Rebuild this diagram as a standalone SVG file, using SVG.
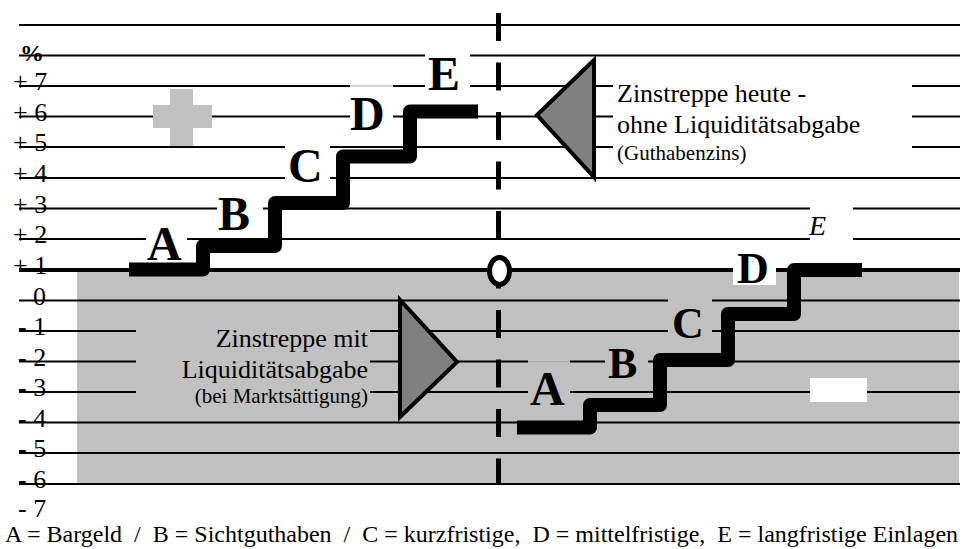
<svg xmlns="http://www.w3.org/2000/svg" width="964" height="549" viewBox="0 0 964 549">
  <style>
    .grid { stroke: #000; stroke-width: 2; fill: none; }
    .faint { stroke: #a8a8a8; stroke-width: 1; fill: none; }
    .axis { font-family: "Liberation Serif", "Times New Roman", serif; font-size: 26px; fill: #000; }
    .step { font-family: "Liberation Serif", "Times New Roman", serif; font-weight: bold; fill: #000; }
    .note { font-family: "Liberation Serif", "Times New Roman", serif; font-size: 26px; fill: #000; }
    .small { font-family: "Liberation Serif", "Times New Roman", serif; font-size: 21px; fill: #000; }
    .stair { fill: none; stroke: #000; stroke-width: 14; stroke-linejoin: round; stroke-linecap: butt; }
    .arrow { fill: #808080; stroke: #000; stroke-width: 4; stroke-linejoin: miter; }
  </style>

  <rect width="964" height="549" fill="#fff"/>

  <!-- negative-rate zone -->
  <rect id="negative-zone" x="77" y="270" width="882" height="214" fill="#c0c0c0"/>

  <!-- horizontal rate grid -->
  <g id="grid" class="grid">
    <path d="M19,25 H960"/>
    <path d="M19,55.5 H425 M470,55.5 H960"/>
    <path d="M19,86 H350 M393,86 H425 M470,86 H613 M912,86 H960"/>
    <path d="M19,116.5 H350 M393,116.5 H613 M912,116.5 H960"/>
    <path d="M19,147 H285 M330,147 H613 M912,147 H960"/>
    <path d="M19,178 H285 M330,178 H960"/>
    <path d="M19,208.5 H217 M263,208.5 H810 M853,208.5 H960"/>
    <path d="M19,239 H146 M187,239 H810 M853,239 H960"/>
    <path d="M19,270 H733 M776,270 H960" stroke-width="4"/>
    <path d="M19,300.5 H668 M712,300.5 H960"/>
    <path d="M19,331 H136 M370,331 H668 M712,331 H960"/>
    <path d="M19,361.5 H136 M370,361.5 H528 M570,361.5 H605 M648,361.5 H960"/>
    <path d="M19,392 H136 M370,392 H528 M570,392 H960"/>
    <path d="M19,422.5 H960"/>
    <path d="M19,453 H960"/>
    <path d="M19,484 H960"/>
  </g>
  <g class="faint">
    <path d="M350,86 H393"/>
    <path d="M528,361.5 H570"/>
  </g>

  <!-- axis labels -->
  <g id="axis-labels" class="axis">
    <text x="20" y="61" font-weight="bold" font-size="24">%</text>
    <text x="13" y="90">+ 7</text>
    <text x="13" y="120.5">+ 6</text>
    <text x="13" y="151">+ 5</text>
    <text x="13" y="182">+ 4</text>
    <text x="13" y="212.5">+ 3</text>
    <text x="13" y="243">+ 2</text>
    <text x="13" y="274">+ 1</text>
    <text x="33" y="305">0</text>
    <text x="18" y="335">- 1</text>
    <text x="18" y="365.5">- 2</text>
    <text x="18" y="396">- 3</text>
    <text x="18" y="426.5">- 4</text>
    <text x="18" y="457">- 5</text>
    <text x="18" y="488">- 6</text>
    <text x="18" y="517">- 7</text>
  </g>

  <!-- plus / minus signs -->
  <g id="plus-sign" fill="#c0c0c0">
    <rect x="170" y="89" width="23" height="57"/>
    <rect x="153" y="105" width="59" height="23"/>
  </g>
  <rect id="minus-sign" x="810" y="378" width="57" height="24" fill="#fff"/>

  <!-- time divider with zero point -->
  <g id="divider">
    <path d="M498.5,13 V484" stroke="#000" stroke-width="5" stroke-dasharray="28 21.5" fill="none"/>
    <ellipse cx="499.5" cy="271" rx="10" ry="13.5" fill="#fff" stroke="#000" stroke-width="5"/>
  </g>

  <!-- rate staircase today -->
  <g id="stairs-today">
    <path class="stair" d="M129,269.5 H203 V246 H275 V203 H343 V156.5 H410 V111.5 H478"/>
    <g class="step" font-size="48">
      <text x="147" y="260">A</text>
      <text x="218" y="230">B</text>
      <text x="288" y="182">C</text>
      <text x="350" y="130">D</text>
      <text x="428" y="90">E</text>
    </g>
  </g>

  <!-- rate staircase with liquidity levy -->
  <g id="stairs-levy">
    <rect x="733" y="262" width="43" height="23" fill="#fff"/>
    <path class="stair" d="M517,427.5 H590 V405 H660 V360 H728 V314 H794 V270 H862"/>
    <g class="step">
      <text x="530" y="405" font-size="48">A</text>
      <text x="608" y="378" font-size="44">B</text>
      <text x="672" y="338" font-size="44">C</text>
      <text x="737" y="283" font-size="44">D</text>
    </g>
    <text x="809" y="235" font-family="Liberation Serif, Times New Roman, serif" font-style="italic" font-size="28">E</text>
  </g>

  <!-- annotation: today -->
  <g id="note-today">
    <polygon class="arrow" points="537,115 594,60 594,177"/>
    <text class="note" x="617" y="102">Zinstreppe heute -</text>
    <text class="note" x="617" y="133">ohne Liquiditätsabgabe</text>
    <text class="small" x="617" y="160">(Guthabenzins)</text>
  </g>

  <!-- annotation: with levy -->
  <g id="note-levy">
    <polygon class="arrow" points="400,300 400,417 457,362"/>
    <text class="note" x="368" y="347" text-anchor="end">Zinstreppe mit</text>
    <text class="note" x="368" y="378" text-anchor="end">Liquiditätsabgabe</text>
    <text class="small" x="368" y="403" text-anchor="end">(bei Marktsättigung)</text>
  </g>

  <!-- legend -->
  <text id="legend" x="5" y="542" font-family="Liberation Serif, Times New Roman, serif" font-size="24" style="white-space:pre">A = Bargeld  /  B = Sichtguthaben  /  C = kurzfristige,  D = mittelfristige,  E = langfristige Einlagen</text>
</svg>
